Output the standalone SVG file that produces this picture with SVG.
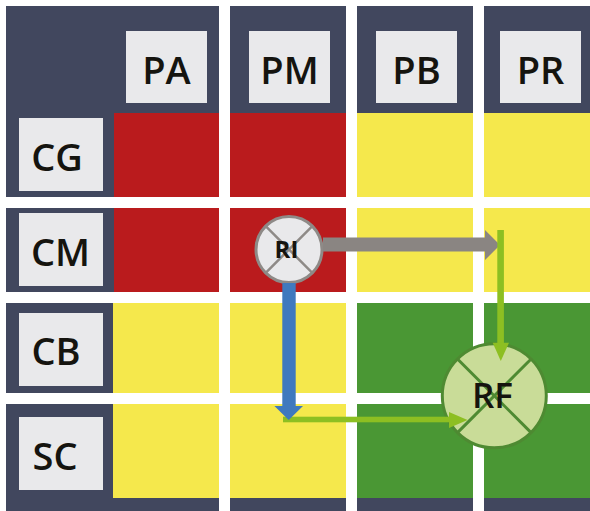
<svg xmlns="http://www.w3.org/2000/svg" width="590" height="511" viewBox="0 0 590 511">
  <style>
    .dark { fill: #41475E; }
    .red { fill: #BA1B1D; }
    .yel { fill: #F5E84C; }
    .grn { fill: #4A9734; }
    .box { fill: #E9E9EB; }
    .lbl { font-family: "Open Sans", "Noto Sans", "Liberation Sans", sans-serif; font-weight: 600; font-size: 38px; fill: #15140F; text-anchor: middle; }
  </style>
  <rect x="0" y="0" width="590" height="511" fill="#FFFFFF"/>
  <g id="grid">
    <!-- column 1 dark blocks -->
    <rect class="dark" x="6" y="6" width="213" height="191"/>
    <rect class="dark" x="6" y="208" width="213" height="84"/>
    <rect class="dark" x="6" y="303" width="213" height="90"/>
    <rect class="dark" x="6" y="404" width="213" height="107"/>
    <!-- columns 2-4 header and bottom -->
    <rect class="dark" x="230" y="6" width="116" height="191"/>
    <rect class="dark" x="357" y="6" width="116" height="191"/>
    <rect class="dark" x="484" y="6" width="106" height="191"/>
    <rect class="dark" x="230" y="404" width="116" height="107"/>
    <rect class="dark" x="357" y="404" width="116" height="107"/>
    <rect class="dark" x="484" y="404" width="106" height="107"/>
    <!-- row 1 -->
    <rect class="red" x="114" y="113" width="105" height="84"/>
    <rect class="red" x="230" y="113" width="116" height="84"/>
    <rect class="yel" x="357" y="113" width="116" height="84"/>
    <rect class="yel" x="484" y="113" width="106" height="84"/>
    <!-- row 2 -->
    <rect class="red" x="114" y="208" width="105" height="84"/>
    <rect class="red" x="230" y="208" width="116" height="84"/>
    <rect class="yel" x="357" y="208" width="116" height="84"/>
    <rect class="yel" x="484" y="208" width="106" height="84"/>
    <!-- row 3 -->
    <rect class="yel" x="113" y="303" width="106" height="90"/>
    <rect class="yel" x="230" y="303" width="116" height="90"/>
    <rect class="grn" x="357" y="303" width="116" height="90"/>
    <rect class="grn" x="484" y="303" width="106" height="90"/>
    <!-- row 4 -->
    <rect class="yel" x="113" y="404" width="106" height="94"/>
    <rect class="yel" x="230" y="404" width="116" height="94"/>
    <rect class="grn" x="357" y="404" width="116" height="94"/>
    <rect class="grn" x="484" y="404" width="106" height="94"/>
  </g>
  <g id="PA"><rect class="box" x="126" y="31" width="81" height="72"/><text class="lbl" x="166.5" y="84">PA</text></g>
  <g id="PM"><rect class="box" x="249" y="31" width="81" height="72"/><text class="lbl" x="289.5" y="84">PM</text></g>
  <g id="PB"><rect class="box" x="376" y="31" width="81" height="72"/><text class="lbl" x="416.5" y="84">PB</text></g>
  <g id="PR"><rect class="box" x="500" y="31" width="81" height="72"/><text class="lbl" x="540.5" y="84">PR</text></g>
  <g id="CG"><rect class="box" x="19" y="118" width="84" height="73"/><text class="lbl" x="57" y="170.5">CG</text></g>
  <g id="CM"><rect class="box" x="19" y="213" width="84" height="73"/><text class="lbl" x="60.5" y="265.5">CM</text></g>
  <g id="CB"><rect class="box" x="19" y="313" width="84" height="73"/><text class="lbl" x="56" y="364.5">CB</text></g>
  <g id="SC"><rect class="box" x="19" y="417" width="84" height="73"/><text class="lbl" x="55" y="469.5">SC</text></g>
  <g id="RI">
    <circle cx="289" cy="249.5" r="33" fill="#E9E9EB" stroke="#8E8A87" stroke-width="3"/>
    <line x1="265.7" y1="226.2" x2="312.3" y2="272.8" stroke="#8E8A87" stroke-width="2.5"/>
    <line x1="312.3" y1="226.2" x2="265.7" y2="272.8" stroke="#8E8A87" stroke-width="2.5"/>
    <text x="286.5" y="257.5" font-family="'Open Sans', 'Noto Sans', 'Liberation Sans', sans-serif" font-weight="700" font-size="24" fill="#15140F" text-anchor="middle">RI</text>
  </g>
  <g id="RF">
    <circle cx="494.3" cy="395.8" r="52" fill="#C9DC98" stroke="#4E8A32" stroke-width="3"/>
    <line x1="457.5" y1="359" x2="531.1" y2="432.6" stroke="#4E8A32" stroke-width="3"/>
    <line x1="531.1" y1="359" x2="457.5" y2="432.6" stroke="#4E8A32" stroke-width="3"/>
    <text x="492.5" y="408" font-family="'Open Sans', 'Noto Sans', 'Liberation Sans', sans-serif" font-weight="600" font-size="35" fill="#15140F" text-anchor="middle">RF</text>
  </g>
  <g id="connectors">
    <path d="M323,237.5 H485 V230 L500,245 L485,260 V251.5 H323 Z" fill="#8A8582"/>
    <rect x="283" y="416.7" width="167" height="5.6" fill="#8DBF22"/>
    <polygon points="449,412 467.5,420 449,428" fill="#8DBF22"/>
    <path d="M282.3,283 H295.7 V406 H303 L288.7,420 L274.4,406 H282.3 Z" fill="#3F79BE"/>
    <rect x="497.3" y="230" width="6.6" height="114" fill="#8DBF22"/>
    <polygon points="492.7,342.7 509,342.7 500.8,361" fill="#8DBF22"/>
  </g>
</svg>
